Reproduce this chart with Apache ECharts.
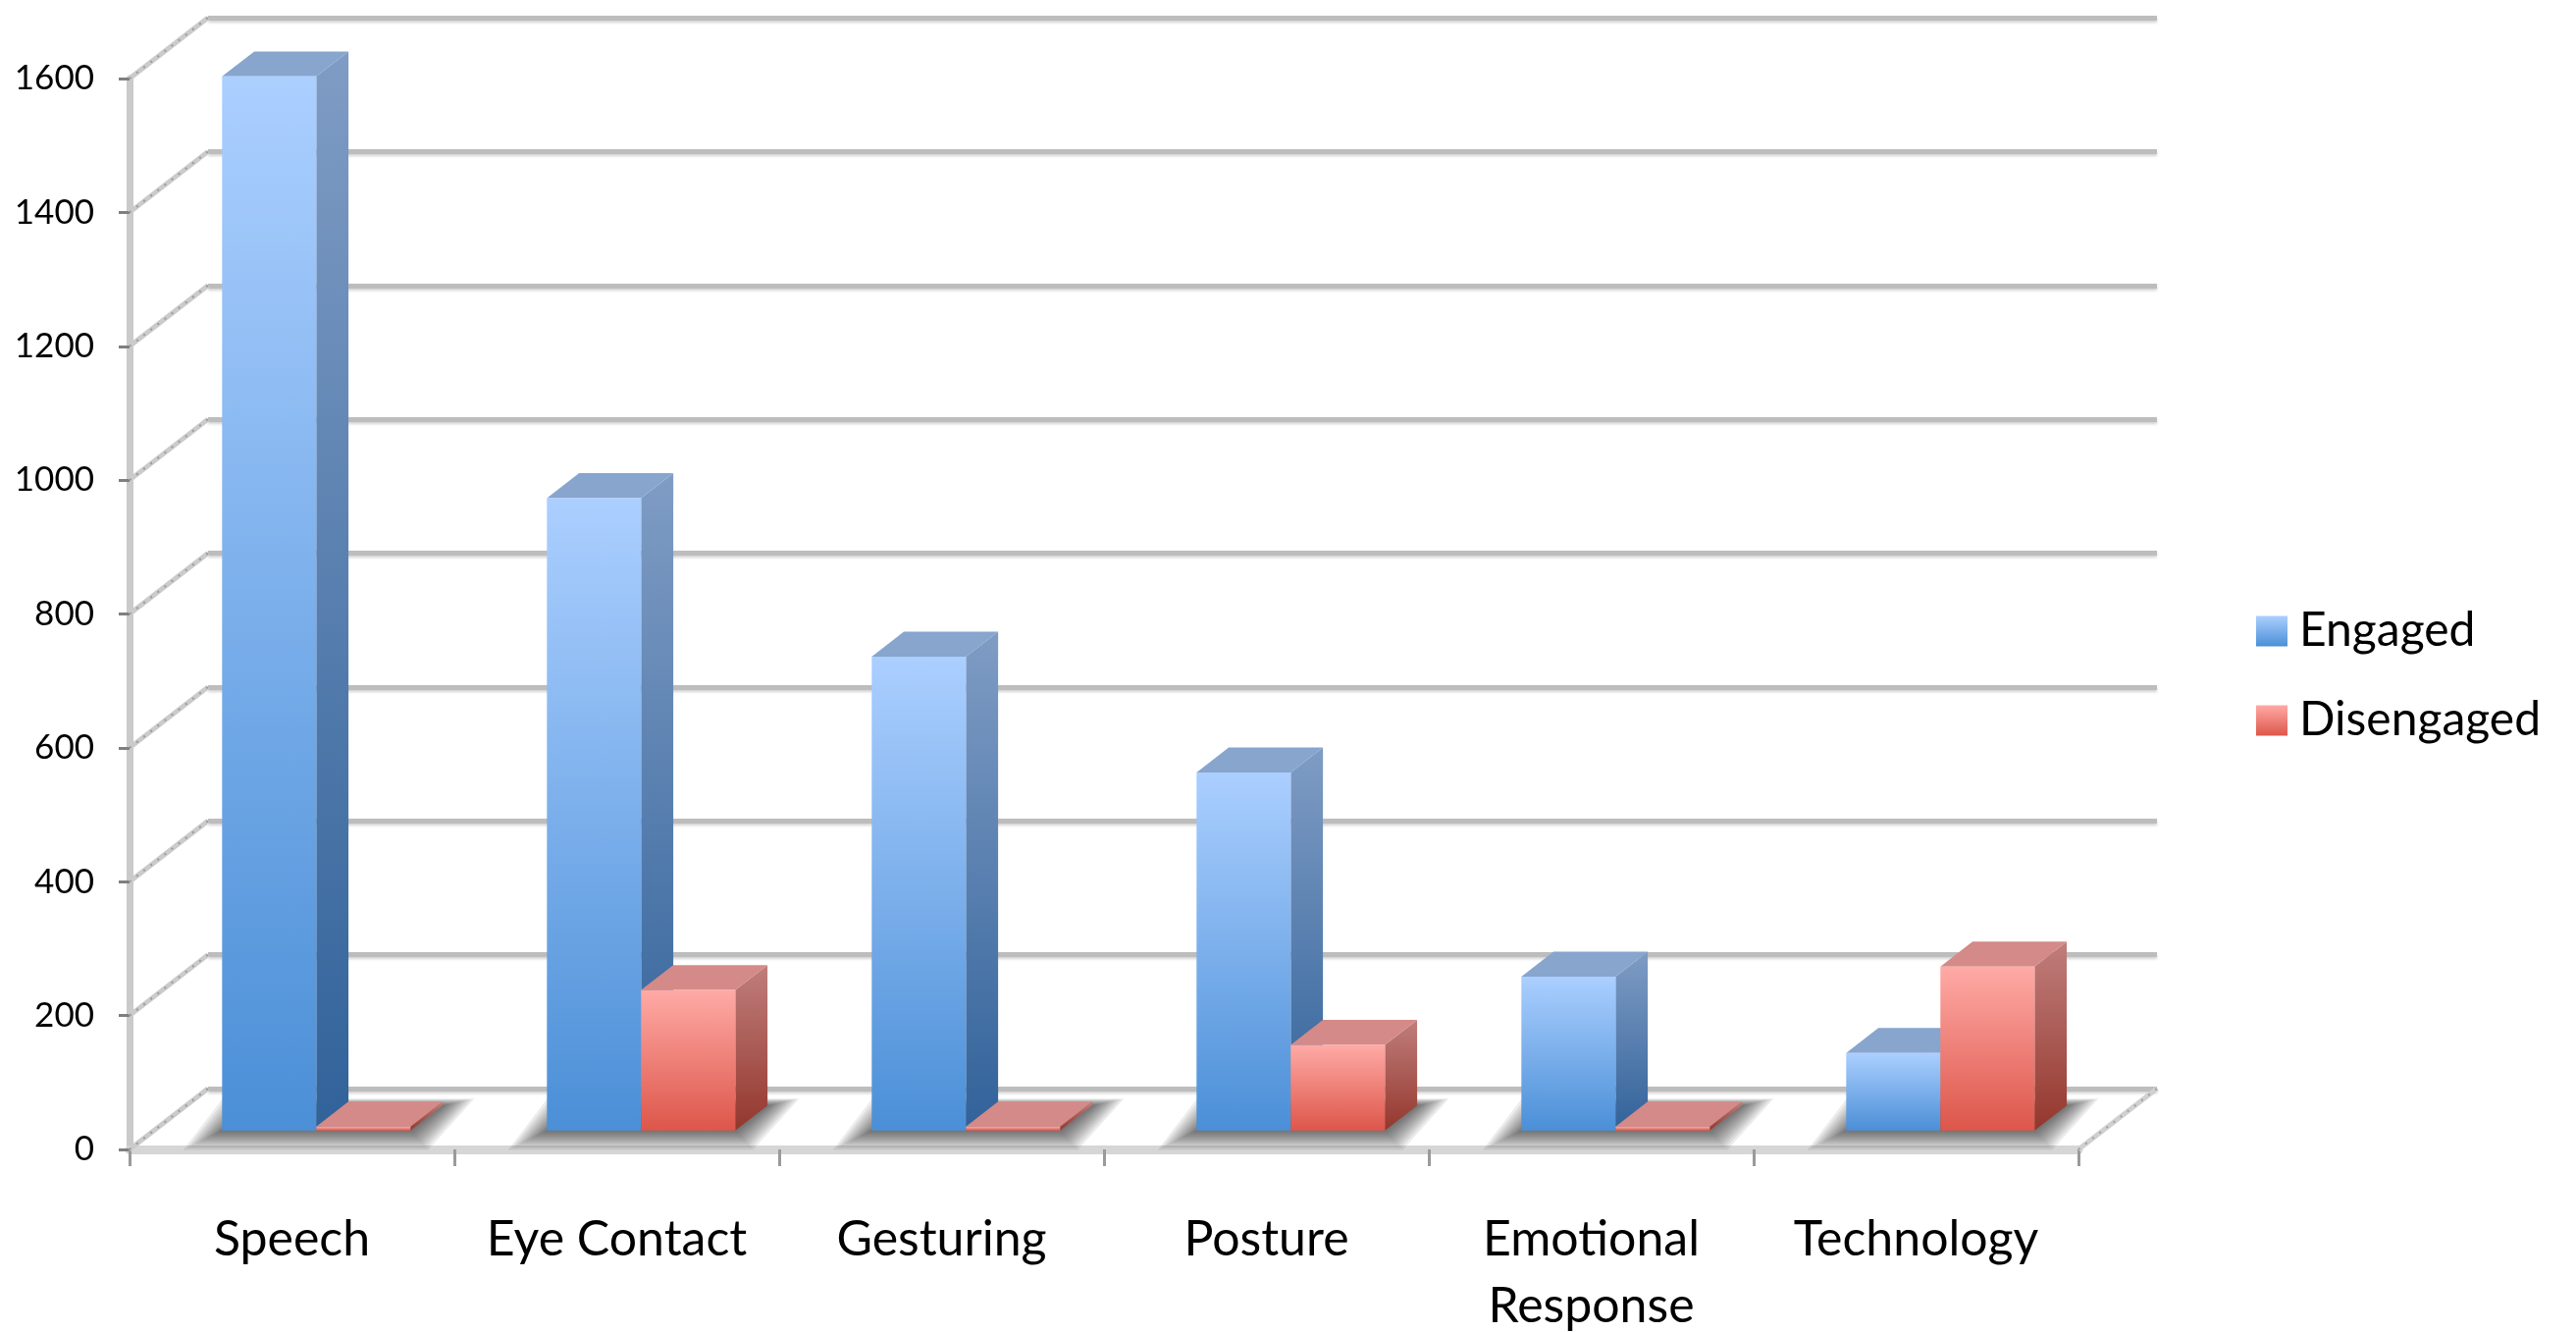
<!DOCTYPE html>
<html lang="en">
<head>
	<meta charset="UTF-8">
	<title>Engagement</title>
	<script src="https://cdn.jsdelivr.net/npm/echarts@6/dist/echarts.min.js"></script>
	<style>
		html,body{height:100%;margin:0;background:#fff;}
	</style>
</head>
<body>
	<div id="chart" style="width:2625px; height:1357px;"></div>
	<script>
	// data
	var categories = ['Speech', 'Eye Contact', 'Gesturing', 'Posture', 'Emotional\nResponse', 'Technology'];
	var engaged = [1575, 945, 708, 535, 230, 116];
	var disengaged = [0, 210, 0, 128, 0, 245];
	var yTicks = [0, 200, 400, 600, 800, 1000, 1200, 1400, 1600];

	// fake 3d depth of the plot box, in px
	var DX = 80, DY = -62;
	var D0 = 0.31;   // where the bars start in depth
	var DW = 0.41;   // bar depth
	var BAR = 0.29;  // bar width / category width

	var LG = echarts.graphic.LinearGradient;
	var blue = {
		front: new LG(0, 0, 0, 1, [{offset: 0, color: '#abcfff'}, {offset: 1, color: '#4b8fd7'}]),
		side: new LG(0, 0, 0, 1, [{offset: 0, color: '#7f9cc4'}, {offset: 1, color: '#31629a'}]),
		top: '#87a5cd'
	};
	var red = {
		front: new LG(0, 0, 0, 1, [{offset: 0, color: '#ffaaa6'}, {offset: 1, color: '#dd564a'}]),
		side: new LG(0, 0, 0, 1, [{offset: 0, color: '#c07e7c'}, {offset: 1, color: '#94372d'}]),
		top: '#d48a88'
	};

	function barBox(api, k) {
		var idx = api.value(0), val = api.value(1);
		var base = api.coord([idx, 0]);
		var top = api.coord([idx, val]);
		var bw = api.size([1, 0])[0] * BAR;
		var x1 = base[0] - bw + k * bw + DX * D0;
		var y0 = base[1] + DY * D0;
		var yt = top[1] + DY * D0;
		if (y0 - yt < 4) yt = y0 - 4;
		return {x1: x1, x2: x1 + bw, y0: y0, yt: yt, dx: DX * DW, dy: DY * DW};
	}

	function makeBar(k, c) {
		return function (params, api) {
			var b = barBox(api, k);
			return {
				type: 'group',
				children: [{
					type: 'polygon',
					shape: {points: [[b.x2, b.yt], [b.x2 + b.dx, b.yt + b.dy], [b.x2 + b.dx, b.y0 + b.dy], [b.x2, b.y0]]},
					style: {fill: c.side}
				}, {
					type: 'polygon',
					shape: {points: [[b.x1, b.yt], [b.x2, b.yt], [b.x2 + b.dx, b.yt + b.dy], [b.x1 + b.dx, b.yt + b.dy]]},
					style: {fill: c.top}
				}, {
					type: 'rect',
					shape: {x: b.x1, y: b.yt, width: b.x2 - b.x1, height: b.y0 - b.yt},
					style: {fill: c.front}
				}]
			};
		};
	}

	// soft shadow on the floor under each group of bars (stacked faint layers)
	function renderShadow(params, api) {
		var idx = api.value(0);
		var base = api.coord([idx, 0]);
		var bw = api.size([1, 0])[0] * BAR;
		var x1 = base[0] - bw + DX * D0;
		var x2 = x1 + 2 * bw;
		var y0 = base[1] + DY * D0;
		var dx = DX * DW, dy = DY * DW;
		var kids = [];
		for (var s = 10; s >= 0; s--) {
			var e = s * 3.6;
			kids.push({
				type: 'polygon',
				shape: {points: [
					[x1 - e * 1.1, y0 + e * 0.55],
					[x2 + e * 0.5, y0 + e * 0.55],
					[x2 + dx + e * 0.9, y0 + dy - e * 0.2],
					[x1 + dx - e * 0.9, y0 + dy - e * 0.2]
				]},
				style: {fill: 'rgba(0,0,0,0.075)'}
			});
		}
		return {type: 'group', children: kids};
	}

	// side wall lines from the front axis to the back wall
	function renderWall(params, api) {
		var cs = params.coordSys;
		var y = api.coord([0, api.value(0)])[1];
		var pts = [[cs.x, y], [cs.x + DX, y + DY]];
		return {
			type: 'group',
			children: [{
				type: 'polyline', shape: {points: pts},
				style: {stroke: '#cbcbcb', lineWidth: 5, fill: null}
			}, {
				type: 'polyline', shape: {points: pts},
				style: {stroke: '#9a9a9a', lineWidth: 2, lineDash: [2, 7], fill: null}
			}]
		};
	}

	// right edge of the floor
	function renderFloor(params, api) {
		var cs = params.coordSys;
		var xr = cs.x + cs.width, yb = cs.y + cs.height;
		var pts = [[xr, yb], [xr + DX, yb + DY]];
		return {
			type: 'group',
			children: [{
				type: 'polyline', shape: {points: pts},
				style: {stroke: '#d0d0d0', lineWidth: 5, fill: null}
			}, {
				type: 'polyline', shape: {points: pts},
				style: {stroke: '#a0a0a0', lineWidth: 2, lineDash: [2, 7], fill: null}
			}]
		};
	}

	var engData = [], disData = [], shData = [];
	for (var i = 0; i < categories.length; i++) {
		engData.push([i, engaged[i]]);
		disData.push([i, disengaged[i]]);
		shData.push([i, 0]);
	}

	var myChart = echarts.init(document.getElementById('chart'));
	var option = {
		animation: false,
		textStyle: {fontFamily: 'Lato', color: '#000'},
		legend: {
			orient: 'vertical',
			left: 2294,
			top: 608,
			itemWidth: 32,
			itemHeight: 31,
			itemGap: 31,
			icon: 'rect',
			data: ['Engaged', 'Disengaged'],
			textStyle: {fontSize: 48, color: '#000', padding: [0, 0, 0, 7], lineHeight: 60}
		},
		grid: [
			{left: 132, top: 80, width: 1986, height: 1091, outerBoundsMode: 'none'},
			{left: 132 + DX, top: 80 + DY, width: 1986, height: 1091, outerBoundsMode: 'none'}
		],
		xAxis: [{
			type: 'category',
			gridIndex: 0,
			data: categories,
			axisLine: {lineStyle: {color: '#d6d6d6', width: 9}},
			axisTick: {show: true, length: 17, lineStyle: {color: '#9a9a9a', width: 3}},
			axisLabel: {fontSize: 50, color: '#000', margin: 58, lineHeight: 68, interval: 0}
		}, {
			type: 'category',
			gridIndex: 1,
			data: categories,
			show: false
		}],
		yAxis: [{
			type: 'value',
			gridIndex: 0,
			min: 0,
			max: 1600,
			interval: 200,
			axisLine: {show: true, lineStyle: {color: '#cacaca', width: 7}},
			axisTick: {show: true, length: 11, lineStyle: {color: '#7f7f7f', width: 3}},
			axisLabel: {fontSize: 35, color: '#000', margin: 36, formatter: function (v) { return String(v); }},
			splitLine: {show: false}
		}, {
			type: 'value',
			gridIndex: 1,
			min: 0,
			max: 1600,
			interval: 200,
			axisLine: {show: false},
			axisTick: {show: false},
			axisLabel: {show: false},
			splitLine: {lineStyle: {color: '#bdbdbd', width: 5, shadowColor: 'rgba(0,0,0,0.18)', shadowBlur: 3, shadowOffsetY: 2}}
		}],
		series: [{
			type: 'custom',
			name: 'wall',
			renderItem: renderWall,
			data: yTicks,
			encode: {y: 0},
			silent: true,
			z: 1
		}, {
			type: 'custom',
			name: 'floor',
			renderItem: renderFloor,
			data: [0],
			silent: true,
			z: 1
		}, {
			type: 'custom',
			name: 'shadow',
			renderItem: renderShadow,
			data: shData,
			encode: {x: 0, y: 1},
			silent: true,
			z: 2
		}, {
			type: 'custom',
			name: 'Engaged',
			renderItem: makeBar(0, blue),
			data: engData,
			encode: {x: 0, y: 1},
			itemStyle: {color: new LG(0, 0, 0, 1, [{offset: 0, color: '#abcfff'}, {offset: 1, color: '#4b8fd7'}])},
			z: 3
		}, {
			type: 'custom',
			name: 'Disengaged',
			renderItem: makeBar(1, red),
			data: disData,
			encode: {x: 0, y: 1},
			itemStyle: {color: new LG(0, 0, 0, 1, [{offset: 0, color: '#ffaaa6'}, {offset: 1, color: '#dd564a'}])},
			z: 4
		}]
	};
	myChart.setOption(option);
	</script>
</body>
</html>
